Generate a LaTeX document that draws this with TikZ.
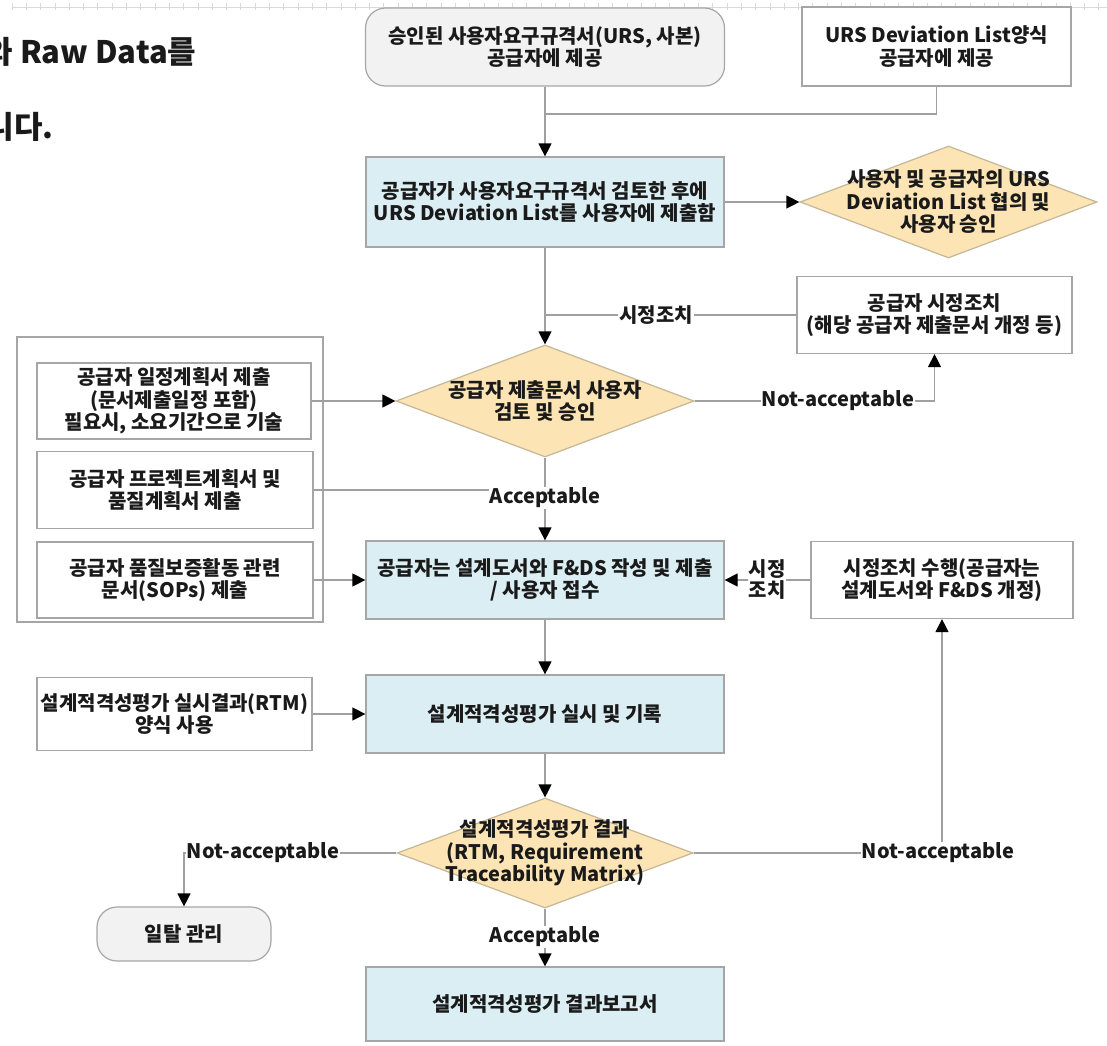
\documentclass[tikz,border=0pt]{standalone}
\usepackage{fontspec}
\setmainfont{Noto Sans CJK KR}
\usetikzlibrary{arrows.meta,shapes.geometric}
\definecolor{bordo}{RGB}{166,166,166}
\definecolor{linea}{RGB}{160,160,160}
\definecolor{azzurro}{RGB}{219,238,243}
\definecolor{arancio}{RGB}{253,228,180}
\definecolor{rombo}{RGB}{196,182,150}
\definecolor{grigio}{RGB}{242,242,242}
\definecolor{testo}{RGB}{26,26,26}
\begin{document}
\begin{tikzpicture}[x=1pt, y=-1pt, text=testo,
    font=\fontsize{20}{22.5}\selectfont\bfseries,
    box/.style={draw=bordo, line width=1.2pt, fill=white, align=center, inner sep=0pt},
    bluebox/.style={box, fill=azzurro},
    terminal/.style={box, fill=grigio, rounded corners=20pt},
    decision/.style={diamond, draw=rombo, line width=1.2pt, fill=arancio, inner sep=0pt},
    dtext/.style={align=center, inner sep=0pt},
    link/.style={draw=linea, line width=1.2pt},
    arrow/.style={link, -{Triangle[width=13pt, length=13pt, color=black]}},
    tag/.style={fill=white, inner sep=1pt, align=center},
    ruler/.style={draw=gray!30, line width=0.8pt}]

  \clip (0,0) rectangle (1107,1045);

  \draw[ruler] (12,7) -- (1107,7);
  \foreach \i in {0,...,76} { \draw[ruler] ({12+14.3*\i},3) -- ++(0,7); }

  \node[font=\fontsize{31}{34}\selectfont\bfseries, anchor=east] (introa) at (200,52) {와 Raw Data를};
  \node[font=\fontsize{31}{34}\selectfont\bfseries, anchor=east] (introb) at (57,127) {니다.};

  \node[terminal, minimum width=359, minimum height=78] (start) at (545,47)
    {승인된 사용자요구규격서(URS, 사본)\\공급자에 제공};
  \node[box, minimum width=269, minimum height=79] (urs) at (936.5,46.5)
    {URS Deviation List양식\\공급자에 제공};
  \node[bluebox, minimum width=358, minimum height=90] (review) at (545,202)
    {공급자가 사용자요구규격서 검토한 후에\\URS Deviation List를 사용자에 제출함};
  \node[decision, minimum width=297, minimum height=112,
    label={[dtext]center:{사용자 및 공급자의 URS\\Deviation List 협의 및\\사용자 승인}}] (agree) at (948.5,202) {};
  \node[box, minimum width=275, minimum height=77] (fixdoc) at (934.5,315)
    {공급자 시정조치\\(해당 공급자 제출문서 개정 등)};
  \node[decision, minimum width=298, minimum height=112,
    label={[dtext]center:{공급자 제출문서 사용자\\검토 및 승인}}] (check) at (545,401) {};

  \draw[box] (17,337) rectangle (323,622);
  \node[box, minimum width=274, minimum height=76] (plan) at (174,401)
    {공급자 일정계획서 제출\\(문서제출일정 포함)\\필요시, 소요기간으로 기술};
  \node[box, minimum width=276, minimum height=77] (project) at (175,490)
    {공급자 프로젝트계획서 및\\품질계획서 제출};
  \node[box, minimum width=276, minimum height=76] (sop) at (175,580)
    {공급자 품질보증활동 관련\\문서(SOPs) 제출};

  \node[bluebox, minimum width=358, minimum height=78] (design) at (545,580)
    {공급자는 설계도서와 F\&DS 작성 및 제출\\/ 사용자 접수};
  \node[box, minimum width=262, minimum height=77] (fixdesign) at (942,580)
    {시정조치 수행(공급자는\\설계도서와 F\&DS 개정)};
  \node[box, minimum width=275, minimum height=73] (form) at (174.5,714)
    {설계적격성평가 실시결과(RTM)\\양식 사용};
  \node[bluebox, minimum width=358, minimum height=78] (dq) at (545,714)
    {설계적격성평가 실시 및 기록};
  \node[decision, minimum width=296, minimum height=110,
    label={[dtext]center:{설계적격성평가 결과\\(RTM, Requirement\\Traceability Matrix)}}] (result) at (545,853) {};
  \node[terminal, minimum width=174, minimum height=54] (deviation) at (184,934) {일탈 관리};
  \node[bluebox, minimum width=358, minimum height=74] (report) at (545,1004)
    {설계적격성평가 결과보고서};

  \coordinate (merge) at (545,114);
  \coordinate (back) at (545,315);
  \coordinate (join) at (545,490);

  \draw[arrow] (start.south) -- (review.north);
  \draw[link] (urs.south) |- (merge);
  \draw[arrow] (review.east) -- (agree.west);
  \draw[arrow] (review.south) -- (check.north);
  \draw[link] (fixdoc.west) -- (back);
  \draw[arrow] (check.east) -| (fixdoc.south);
  \draw[arrow] (plan.east) -- (check.west);
  \draw[link] (project.east) -- (join);
  \draw[arrow] (check.south) -- (design.north);
  \draw[arrow] (sop.east) -- (design.west);
  \draw[arrow] (fixdesign.west) -- (design.east);
  \draw[arrow] (design.south) -- (dq.north);
  \draw[arrow] (form.east) -- (dq.west);
  \draw[arrow] (dq.south) -- (result.north);
  \draw[arrow] (result.west) -| (deviation.north);
  \draw[arrow] (result.east) -| (fixdesign.south);
  \draw[arrow] (result.south) -- (report.north);

  \node[tag] (tfixa) at (656,315) {시정조치};
  \node[tag] (tnoa) at (838,401) {Not-acceptable};
  \node[tag] (toka) at (545,498) {Acceptable};
  \node[tag, font=\fontsize{20}{21}\selectfont\bfseries] (tfixb) at (767,579) {시정\\조치};
  \node[tag] (tnob) at (263,853) {Not-acceptable};
  \node[tag] (tnoc) at (938,853) {Not-acceptable};
  \node[tag] (tokb) at (545,937) {Acceptable};
\end{tikzpicture}
\end{document}
